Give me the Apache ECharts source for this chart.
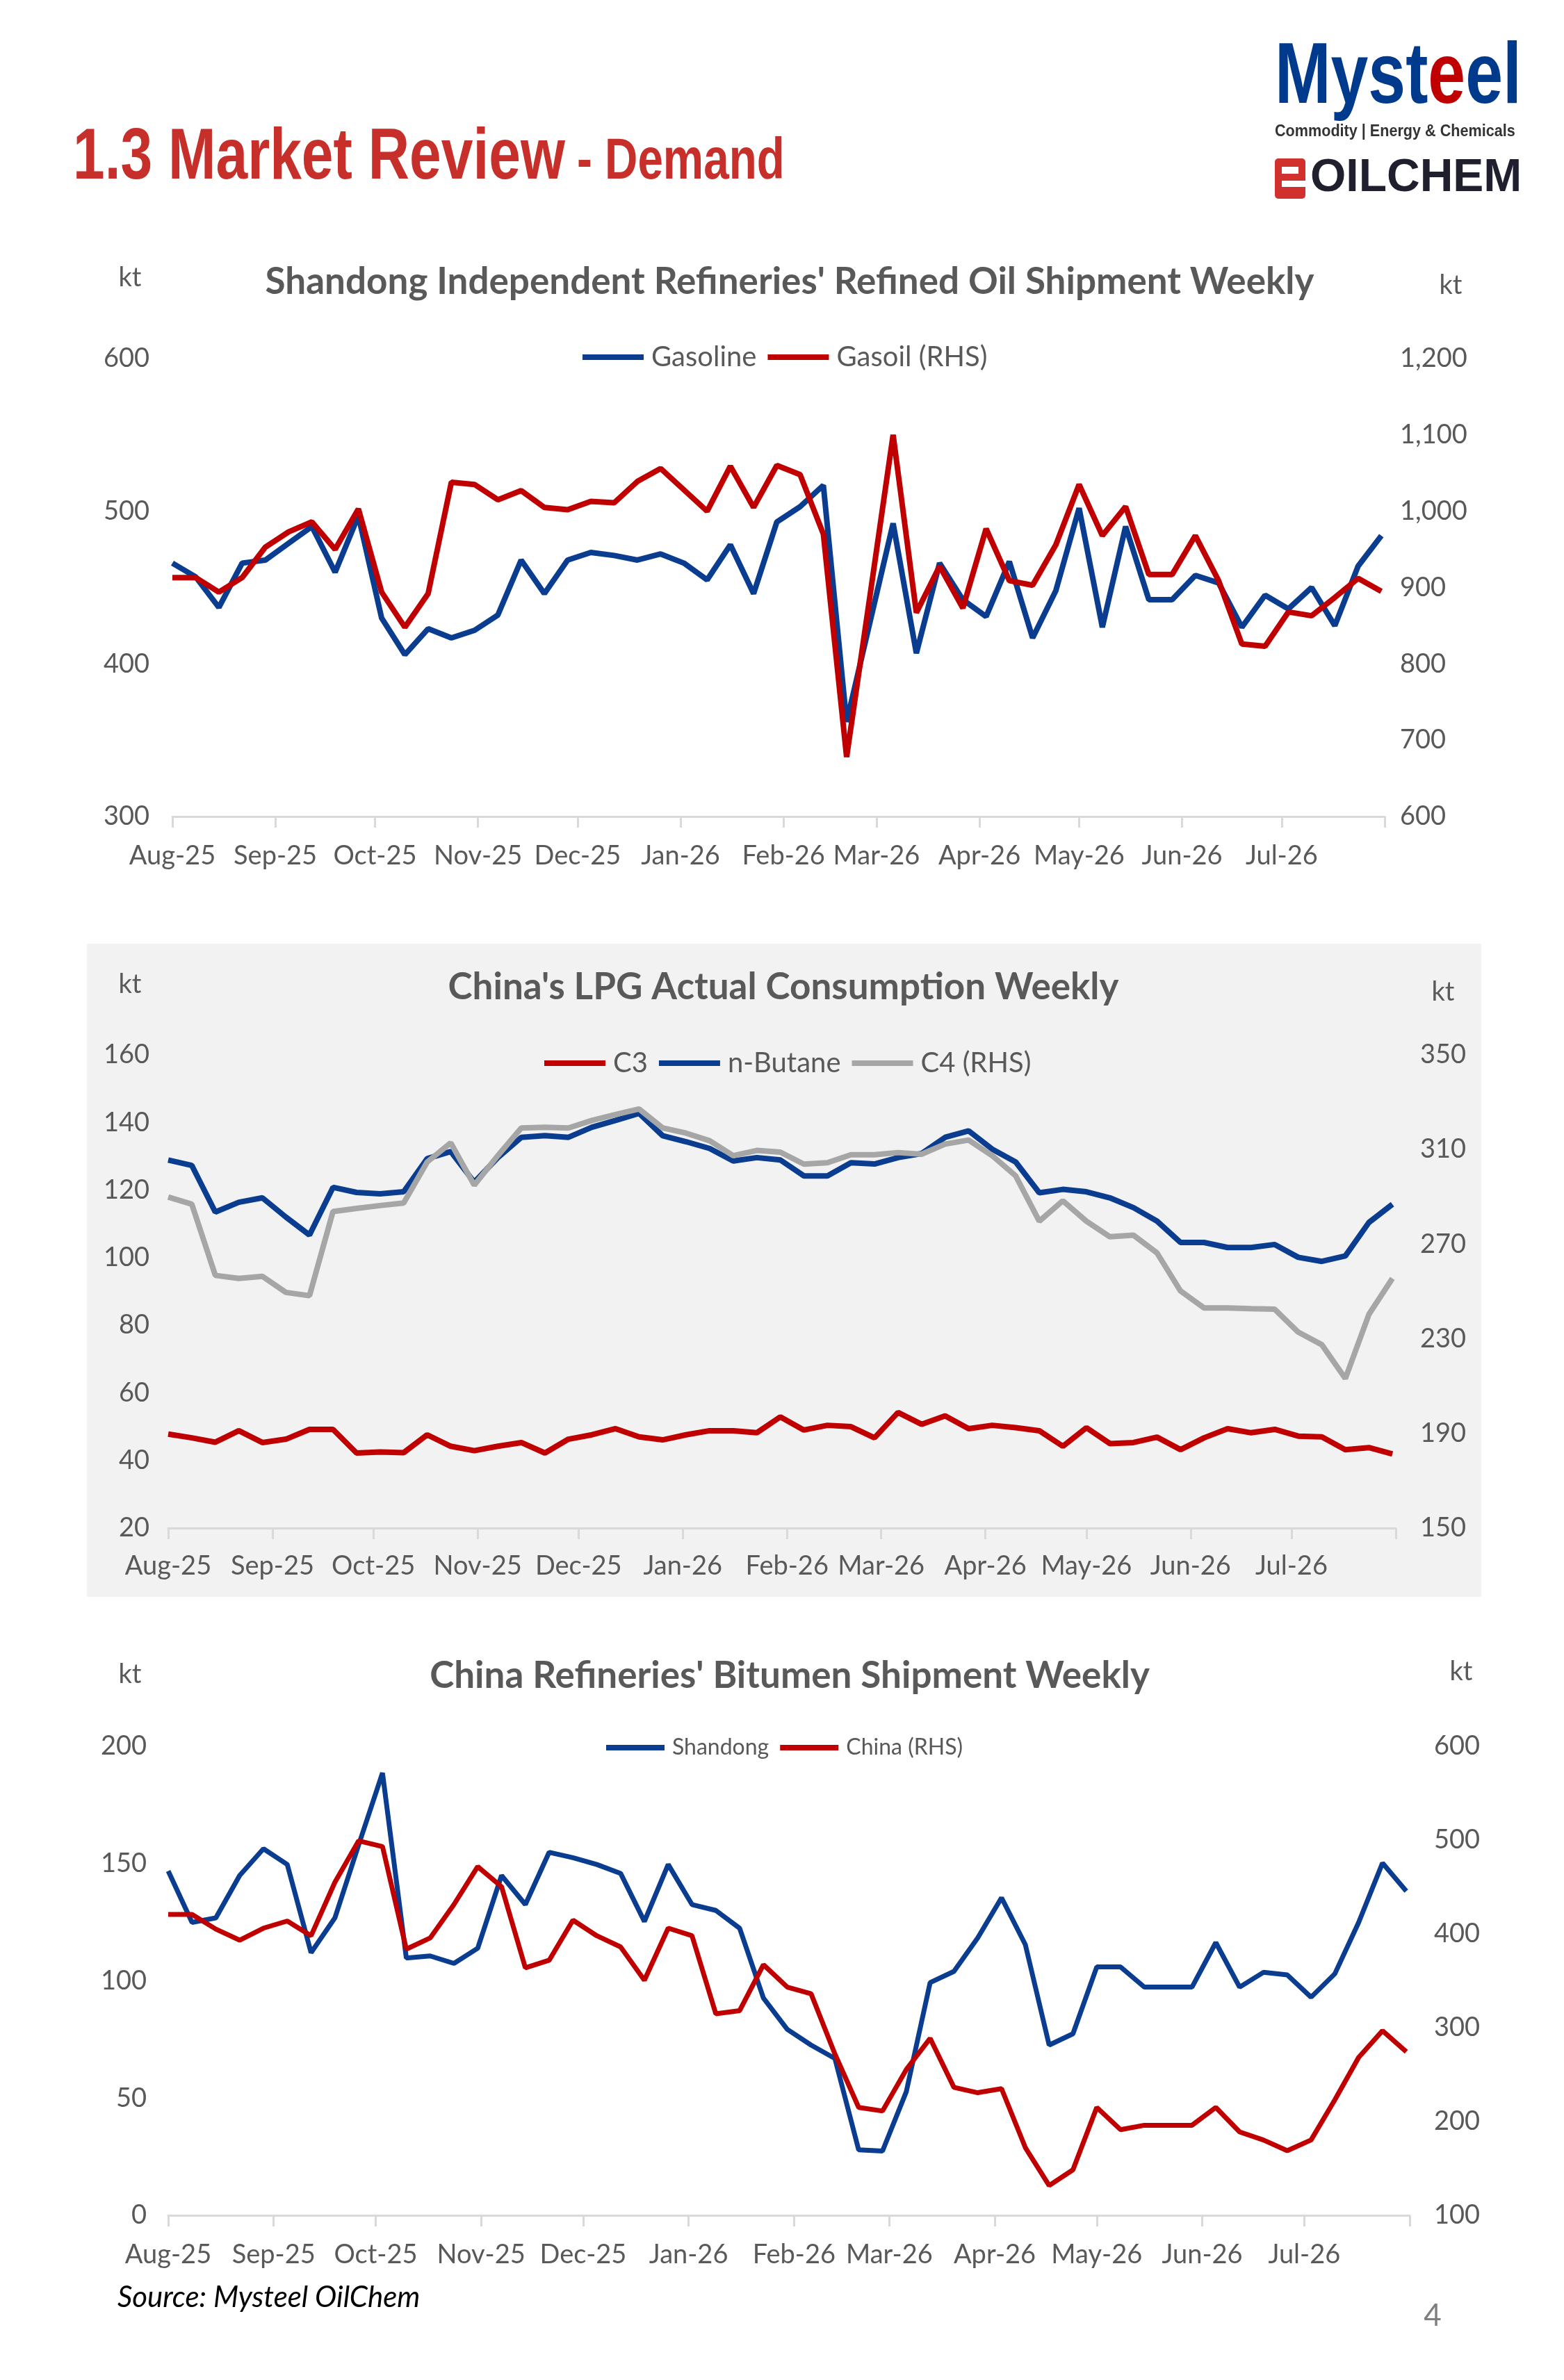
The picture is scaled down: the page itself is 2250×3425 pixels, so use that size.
<!DOCTYPE html>
<html>
<head>
<meta charset="utf-8">
<script src="https://cdn.jsdelivr.net/npm/echarts@6.0.0/dist/echarts.min.js"></script>
<style>
  html, body { margin: 0; padding: 0; background: #fff; }
  #main { width: 2250px; height: 3425px; }
</style>
</head>
<body>
<div id="main"></div>
<script>
// weekly series, first week Aug 1 2025, 53 weeks
var weekCount = 53;
var monthNames = ["Jan", "Feb", "Mar", "Apr", "May", "Jun", "Jul", "Aug", "Sep", "Oct", "Nov", "Dec"];

// chart 1 - Shandong refined oil shipment (kt)
var gasoline = [466, 457, 437, 466, 468, 479, 490, 460, 497, 430, 406, 423, 417, 422, 432, 468, 446, 468,
  473, 471, 468, 472, 466, 455, 478, 446, 493, 503, 517, 362, 427, 492, 407, 466, 442, 431, 467, 417,
  448, 502, 424, 490, 442, 442, 458, 453, 424, 445, 436, 450, 425, 464, 484];
var gasoil = [913, 913, 894, 913, 953, 973, 986, 950, 1003, 894, 848, 892, 1038, 1035, 1015, 1027, 1005, 1002,
  1013, 1011, 1039, 1056, 1028, 1000, 1059, 1005, 1060, 1048, 970, 678, 888, 1100, 867, 928, 873, 977, 909, 903,
  956, 1035, 968, 1006, 917, 917, 968, 909, 826, 823, 868, 863, 887, 912, 895];

// chart 2 - China LPG actual consumption (kt)
var c3 = [47.8, 46.7, 45.4, 48.8, 45.3, 46.3, 49.2, 49.2, 42.2, 42.5, 42.3, 47.6, 44.2, 42.9, 44.2, 45.3, 42.2, 46.3,
  47.6, 49.4, 47.0, 46.1, 47.6, 48.8, 48.8, 48.2, 52.9, 49.0, 50.4, 50.0, 46.7, 54.2, 50.7, 53.2, 49.4, 50.4, 49.7,
  48.8, 44.2, 49.7, 45.0, 45.3, 46.9, 43.2, 46.7, 49.4, 48.2, 49.2, 47.2, 47.0, 43.2, 43.8, 41.9];
var nButane = [128.9, 127.3, 113.5, 116.4, 117.7, 112.0, 106.7, 120.8, 119.3, 118.9, 119.5, 129.3, 131.4, 122.3,
  129.6, 135.6, 136.1, 135.6, 138.6, 140.6, 142.7, 136.1, 134.3, 132.3, 128.6, 129.6, 128.9, 124.2, 124.2, 128.1,
  127.7, 129.6, 130.8, 135.6, 137.5, 132.1, 128.3, 119.2, 120.2, 119.5, 117.7, 114.8, 110.8, 104.5, 104.5, 103.0,
  103.0, 103.9, 100.1, 98.9, 100.5, 110.4, 115.8];
var c4 = [289.9, 286.9, 256.8, 255.5, 256.4, 249.6, 248.2, 283.8, 285.1, 286.3, 287.4, 304.7, 312.8, 294.9,
  307.4, 319.1, 319.4, 319.1, 322.3, 324.8, 327.1, 319.1, 316.9, 313.7, 307.4, 309.6, 308.9, 303.8, 304.4, 307.8,
  307.8, 308.7, 308.0, 312.3, 314.0, 307.4, 298.8, 279.7, 288.3, 279.7, 273.1, 273.8, 266.3, 250.2, 243.0, 243.0,
  242.7, 242.5, 232.8, 227.5, 213.2, 240.3, 255.5];

// chart 3 - China refineries bitumen shipment (kt)
var shandong = [146.8, 124.9, 126.8, 144.9, 156.3, 149.6, 112.0, 126.8, 158.0, 188.6, 109.7, 110.6, 107.4, 113.9,
  144.9, 132.5, 154.8, 152.5, 149.6, 145.8, 125.3, 149.6, 132.5, 130.0, 122.4, 92.6, 79.3, 72.6, 66.9, 27.9, 27.4,
  52.7, 99.2, 104.0, 118.3, 135.4, 115.4, 72.6, 77.4, 105.9, 105.9, 97.3, 97.3, 97.3, 116.3, 97.3, 103.6, 102.5,
  93.0, 103.0, 124.9, 150.2, 138.2];
var china = [420.8, 420.8, 405.1, 393.3, 406.1, 413.7, 398.0, 455.0, 499.2, 493.1, 383.7, 395.6, 431.3, 471.7,
  450.3, 363.8, 371.9, 414.6, 398.0, 386.1, 350.5, 406.1, 398.0, 314.8, 318.2, 367.1, 343.3, 336.2, 272.1, 215.0,
  211.2, 255.4, 288.7, 236.4, 230.7, 235.0, 172.2, 131.8, 148.5, 215.0, 191.3, 196.0, 196.0, 196.0, 215.0, 188.9,
  180.3, 168.9, 180.3, 223.1, 268.3, 296.8, 274.4];

// value axes: [min, max, interval]
var axis1Left = [300, 600, 100];
var axis1Right = [600, 1200, 100];
var axis2Left = [20, 160, 20];
var axis2Right = [150, 350, 40];
var axis3Left = [0, 200, 50];
var axis3Right = [100, 600, 100];

var BLUE = "#0a3d8f";
var RED = "#c00000";
var GREY = "#a6a6a6";
var TXT = "#595959";
var FONT = "Lato";
var DAY = 86400000;

var weeks = [];
for (var i = 0; i < weekCount; i++) {
  weeks.push(new Date(2025, 7, 1 + 7 * i).getTime());
}
var axisStart = new Date(2025, 7, 1).getTime();
var axisEnd = new Date(2026, 7, 1).getTime();

function pairs(values) {
  return values.map(function(v, i) {
    return [weeks[i], v];
  });
}

// last tick (Aug-26) has no label in the original
function monthLabel(value) {
  if (value >= axisEnd - DAY) return "";
  var d = new Date(value);
  return monthNames[d.getMonth()] + "-" + String(d.getFullYear()).slice(2);
}

function timeAxis(gridIndex, margin) {
  return {
    type: "time",
    gridIndex: gridIndex,
    min: axisStart,
    max: axisEnd,
    splitNumber: 12,
    minInterval: 28 * DAY,
    maxInterval: 31 * DAY,
    axisLine: { show: true, lineStyle: { color: "#d9d9d9", width: 3 } },
    axisTick: { show: true, length: 16, lineStyle: { color: "#d9d9d9", width: 3 } },
    splitLine: { show: false },
    axisLabel: {
      color: TXT,
      fontFamily: FONT,
      fontSize: 38,
      margin: margin,
      hideOverlap: false,
      formatter: monthLabel
    }
  };
}

function valueAxis(gridIndex, range, position, margin, fmt) {
  return {
    type: "value",
    gridIndex: gridIndex,
    position: position,
    min: range[0],
    max: range[1],
    interval: range[2],
    axisLine: { show: false },
    axisTick: { show: false },
    splitLine: { show: false },
    axisLabel: {
      color: TXT,
      fontFamily: FONT,
      fontSize: 38,
      margin: margin,
      formatter: fmt || "{value}"
    }
  };
}

function lineSeries(name, values, xi, yi, color, width) {
  return {
    name: name,
    type: "line",
    xAxisIndex: xi,
    yAxisIndex: yi,
    data: pairs(values),
    symbol: "none",
    lineStyle: { color: color, width: width },
    itemStyle: { color: color },
    z: 3
  };
}

function legendAt(left, top, names, fontSize, itemWidth) {
  return {
    left: left,
    top: top,
    data: names,
    icon: "rect",
    itemWidth: itemWidth,
    itemHeight: 8,
    itemGap: 16,
    textStyle: { color: TXT, fontFamily: FONT, fontSize: fontSize, padding: [0, 0, 0, 6] }
  };
}

function label(text, x, y, size, opts) {
  opts = opts || {};
  return {
    type: "text",
    x: x,
    y: y,
    scaleX: opts.scaleX || 1,
    z: 10,
    style: {
      text: text,
      fill: opts.color || TXT,
      font: (opts.style || "") + " " + (opts.weight || "normal") + " " + size + "px " + (opts.family || FONT),
      align: opts.align || "center",
      verticalAlign: "middle"
    }
  };
}

var chart = echarts.init(document.getElementById("main"));

var option = {
  backgroundColor: "#ffffff",
  animation: false,
  grid: [
    { left: 248, top: 516, width: 1744, height: 659 },
    { left: 242, top: 1518, width: 1766, height: 681 },
    { left: 242, top: 2513, width: 1786, height: 675 }
  ],
  xAxis: [timeAxis(0, 38), timeAxis(1, 36), timeAxis(2, 38)],
  yAxis: [
    valueAxis(0, axis1Left, "left", 33),
    valueAxis(0, axis1Right, "right", 22, function(v) { return v.toLocaleString("en-US"); }),
    valueAxis(1, axis2Left, "left", 27),
    valueAxis(1, axis2Right, "right", 35),
    valueAxis(2, axis3Left, "left", 31),
    valueAxis(2, axis3Right, "right", 35)
  ],
  legend: [
    legendAt(833, 489, ["Gasoline", "Gasoil (RHS)"], 40, 88),
    legendAt(778, 1505, ["C3", "n-Butane", "C4 (RHS)"], 40, 88),
    legendAt(867, 2494, ["Shandong", "China (RHS)"], 32, 84)
  ],
  series: [
    lineSeries("Gasoline", gasoline, 0, 0, BLUE, 8),
    lineSeries("Gasoil (RHS)", gasoil, 0, 1, RED, 8),
    lineSeries("C3", c3, 1, 2, RED, 8),
    lineSeries("n-Butane", nButane, 1, 2, BLUE, 8),
    lineSeries("C4 (RHS)", c4, 1, 3, GREY, 8),
    lineSeries("Shandong", shandong, 2, 4, BLUE, 7),
    lineSeries("China (RHS)", china, 2, 5, RED, 7)
  ],
  graphic: [
    // grey panel behind the LPG chart
    { type: "rect", z: -10, shape: { x: 125, y: 1358, width: 2006, height: 940 }, style: { fill: "#f2f2f2" } },

    // page heading
    label("1.3 Market Review", 105, 228, 104, { color: "#c7302a", weight: "bold", family: "Liberation Sans", align: "left", scaleX: 0.79 }),
    label("- Demand", 830, 234, 83, { color: "#c7302a", weight: "bold", family: "Liberation Sans", align: "left", scaleX: 0.79 }),

    // logo
    {
      type: "text", x: 1834, y: 114, scaleX: 0.78, z: 10,
      style: {
        text: "{b|Myst}{r|e}{b|el}",
        verticalAlign: "middle",
        align: "left",
        rich: {
          b: { fill: "#003a8c", font: "bold 124px 'Liberation Sans'" },
          r: { fill: "#c00000", font: "bold 124px 'Liberation Sans'" }
        }
      }
    },
    label("Commodity | Energy & Chemicals", 1834, 189, 24, { color: "#333333", weight: "bold", family: "Liberation Sans", align: "left", scaleX: 0.9 }),
    { type: "rect", z: 10, shape: { x: 1834, y: 228, width: 44, height: 58, r: 5 }, style: { fill: "#d0312d" } },
    { type: "rect", z: 11, shape: { x: 1844, y: 240, width: 24, height: 10 }, style: { fill: "#ffffff" } },
    { type: "rect", z: 11, shape: { x: 1844, y: 260, width: 34, height: 9 }, style: { fill: "#ffffff" } },
    label("OILCHEM", 1885, 257, 66, { color: "#1f1f2e", weight: "bold", family: "Liberation Sans", align: "left", scaleX: 1.0 }),

    // chart titles
    label("Shandong Independent Refineries' Refined Oil Shipment Weekly", 1136, 406, 53, { weight: "bold" }),
    label("China's LPG Actual Consumption Weekly", 1127, 1421, 53, { weight: "bold" }),
    label("China Refineries' Bitumen Shipment Weekly", 1136, 2412, 53, { weight: "bold" }),

    // units
    label("kt", 187, 400, 38),
    label("kt", 2087, 411, 38),
    label("kt", 187, 1417, 38),
    label("kt", 2076, 1428, 38),
    label("kt", 187, 2410, 38),
    label("kt", 2102, 2406, 38),

    // footer
    label("Source: Mysteel OilChem", 169, 3306, 42, { color: "#000000", style: "italic", align: "left" }),
    label("4", 2061, 3333, 44, { color: "#7f7f7f" })
  ]
};

chart.setOption(option);
</script>
</body>
</html>
